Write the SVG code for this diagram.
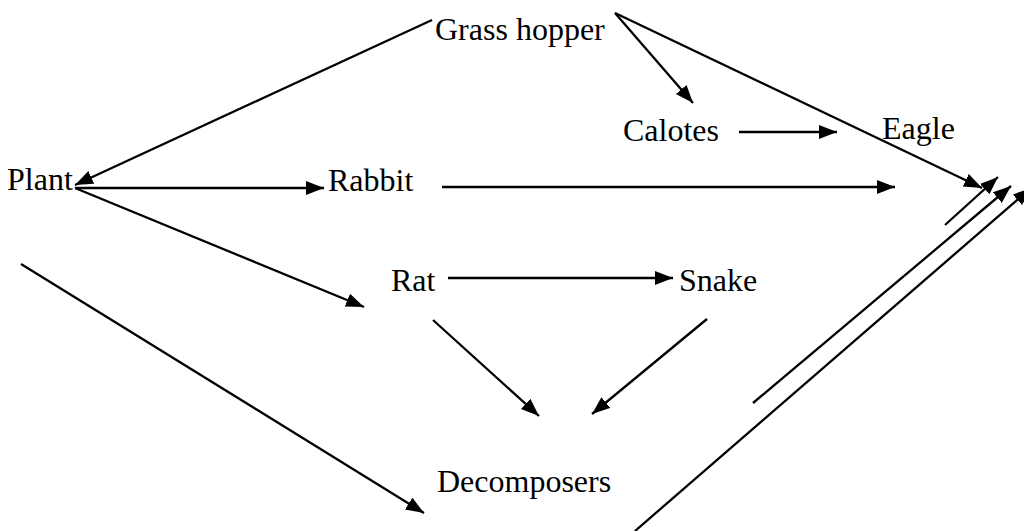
<svg xmlns="http://www.w3.org/2000/svg" width="1024" height="531" viewBox="0 0 1024 531">
<style>
text{font-family:"Liberation Serif","Times New Roman",serif;font-size:32px;fill:#000}
.c line{stroke:#000;stroke-width:2.3;fill:none}
.a{marker-end:url(#ah)}
</style>
<defs>
<marker id="ah" markerUnits="userSpaceOnUse" markerWidth="19" markerHeight="15" refX="18" refY="7" orient="auto">
<path d="M0,0 L18,7 L0,14 z" fill="#000"/>
</marker>
</defs>
<rect width="1024" height="531" fill="#fff"/>
<g id="grasshopper"><text x="435" y="40">Grass hopper</text></g>
<g id="calotes"><text x="623" y="141">Calotes</text></g>
<g id="eagle"><text x="882" y="139">Eagle</text></g>
<g id="plant"><text x="7" y="190">Plant</text></g>
<g id="rabbit"><text x="328" y="191">Rabbit</text></g>
<g id="rat"><text x="391" y="291">Rat</text></g>
<g id="snake"><text x="679" y="291">Snake</text></g>
<g id="decomposers"><text x="437" y="492">Decomposers</text></g>
<g class="c" id="connectors">
<line class="a" x1="432" y1="20" x2="75" y2="185"/>
<line class="a" x1="75" y1="188" x2="324" y2="188"/>
<line class="a" x1="75" y1="188" x2="364" y2="307"/>
<line class="a" x1="21" y1="264" x2="424" y2="513"/>
<line class="a" x1="615" y1="13" x2="693" y2="103"/>
<line class="a" x1="615" y1="13" x2="982" y2="188"/>
<line class="a" x1="739" y1="132" x2="837" y2="132"/>
<line class="a" x1="442" y1="187" x2="895" y2="187"/>
<line class="a" x1="448" y1="278" x2="673" y2="278"/>
<line class="a" x1="433" y1="320" x2="539" y2="416"/>
<line class="a" x1="707" y1="319" x2="592" y2="414"/>
<line class="a" x1="945" y1="225" x2="998" y2="177"/>
<line class="a" x1="753" y1="403" x2="1011" y2="186"/>
<line class="a" x1="635" y1="531" x2="1031" y2="188"/>
</g>
</svg>
